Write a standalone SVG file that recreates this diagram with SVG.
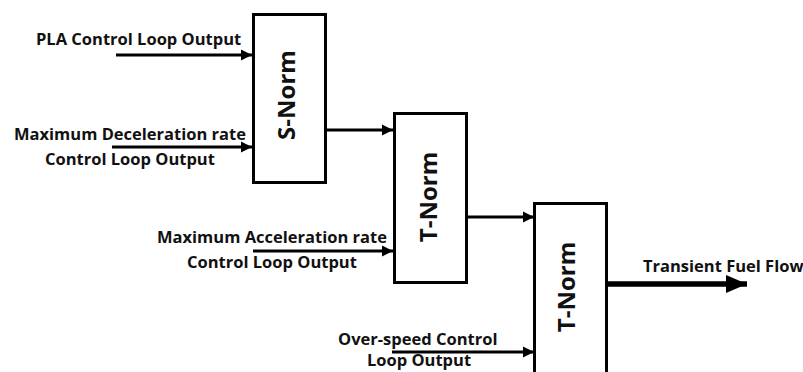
<svg xmlns="http://www.w3.org/2000/svg" width="803" height="372" viewBox="0 0 803 372">
<style>
.box{fill:#fff;stroke:#000;stroke-width:3}
.lbl{font-family:"Open Sans","Liberation Sans",sans-serif;font-weight:bold;font-size:16.5px;fill:#111}
.blk{font-family:"Open Sans","Liberation Sans",sans-serif;font-weight:bold;font-size:24px;fill:#111;text-anchor:middle}
.wire{stroke:#000;stroke-width:3;fill:none}
</style>
<defs>
<marker id="ah" markerUnits="userSpaceOnUse" markerWidth="12" markerHeight="12" refX="11" refY="6" orient="auto">
<path d="M0,0.5 L11,6 L0,11.5 Z" fill="#000"/>
</marker>
<marker id="ahb" markerUnits="userSpaceOnUse" markerWidth="22" markerHeight="18" refX="21" refY="9" orient="auto">
<path d="M0,0 L21,9 L0,18 Z" fill="#000"/>
</marker>
</defs>
<g id="connectors">
<line class="wire" x1="116" y1="55" x2="252" y2="55" marker-end="url(#ah)"/>
<line class="wire" x1="112" y1="147" x2="252" y2="147" marker-end="url(#ah)"/>
<line class="wire" x1="327" y1="130" x2="393" y2="130" marker-end="url(#ah)"/>
<line class="wire" x1="253" y1="251" x2="393" y2="251" marker-end="url(#ah)"/>
<line class="wire" x1="467" y1="217" x2="534" y2="217" marker-end="url(#ah)"/>
<line class="wire" x1="392" y1="352" x2="534" y2="352" marker-end="url(#ah)"/>
<line x1="608" y1="284" x2="747" y2="284" stroke="#000" stroke-width="5.5" marker-end="url(#ahb)"/>
</g>
<g id="labels">
<text class="lbl" x="36" y="45">PLA Control Loop Output</text>
<text class="lbl" x="14" y="140">Maximum Deceleration rate</text>
<text class="lbl" x="45" y="165">Control Loop Output</text>
<text class="lbl" x="157" y="243">Maximum Acceleration rate</text>
<text class="lbl" x="187" y="268">Control Loop Output</text>
<text class="lbl" x="338" y="345">Over-speed Control</text>
<text class="lbl" x="367" y="366">Loop Output</text>
<text class="lbl" x="643" y="272">Transient Fuel Flow</text>
</g>
<g id="snorm">
<rect class="box" x="253.5" y="14.5" width="72" height="168"/>
<text class="blk" transform="translate(295,95) rotate(-90)">S-Norm</text>
</g>
<g id="tnorm1">
<rect class="box" x="394.5" y="113.5" width="72" height="169"/>
<text class="blk" transform="translate(437,197) rotate(-90)">T-Norm</text>
</g>
<g id="tnorm2">
<rect class="box" x="534.5" y="203.5" width="72" height="172"/>
<text class="blk" transform="translate(575,287) rotate(-90)">T-Norm</text>
</g>
</svg>
